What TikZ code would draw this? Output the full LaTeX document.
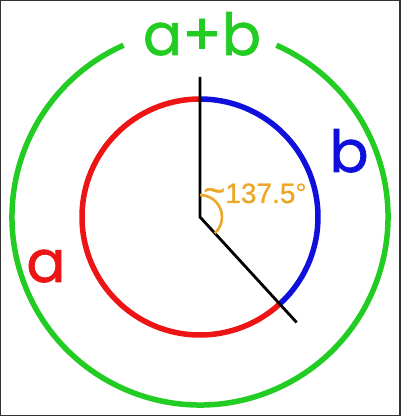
\documentclass[tikz,border=0pt]{standalone}
\usepackage{fontspec}
\usetikzlibrary{calc}
\setmainfont{Poppins}[FakeBold=1.2]
\newfontfamily\numfont{Liberation Sans}[FakeBold=0.8]
\definecolor{cgreen}{RGB}{34,204,34}
\definecolor{cred}{RGB}{236,20,20}
\definecolor{cblue}{RGB}{16,16,220}
\definecolor{corange}{RGB}{235,168,40}
\begin{document}
\begin{tikzpicture}[x=1pt,y=1pt,
  ring/.style={line width=5.5pt},
  hand/.style={line width=2.8pt, black},
  biglabel/.style={font=\fontsize{58}{58}\selectfont, inner sep=0pt, anchor=base},
  anglabel/.style={font=\numfont\fontsize{28}{28}\selectfont, text=corange, inner sep=0pt, anchor=base west}]
\useasboundingbox (0,0) rectangle (400,416);
\draw[line width=1.5pt, black!80] (0,0) rectangle (400,416);
\coordinate (O) at (200,199);
\coordinate (top) at (200,339);
\coordinate (tip) at ($(O)+(-47.5:143)$);
% outer green ring with a gap for the label
\draw[ring, cgreen] ($(O)+(114:188)$) arc[start angle=114, end angle=426, radius=188];
% inner circle
\draw[ring, cblue] ($(O)+(-47.5:118)$) arc[start angle=-47.5, end angle=90, radius=118];
\draw[ring, cred] ($(O)+(90:118)$) arc[start angle=90, end angle=312.5, radius=118];
% hands
\draw[hand] (top) -- (O) -- (tip);
% angle arc
\draw[line width=2.6pt, corange] ($(O)+(90:22)$) arc[start angle=90, end angle=-47.5, radius=22];
% labels
\node[biglabel, text=cgreen] (ab) at (202,361) {a+b};
\node[biglabel, text=cred] (la) at (46,134) {a};
\node[biglabel, text=cblue] (lb) at (349,244) {b};
\node[anglabel] (ang) at (203,213) {{\fontsize{38}{38}\selectfont\char"7E}137.5°};
\end{tikzpicture}
\end{document}
